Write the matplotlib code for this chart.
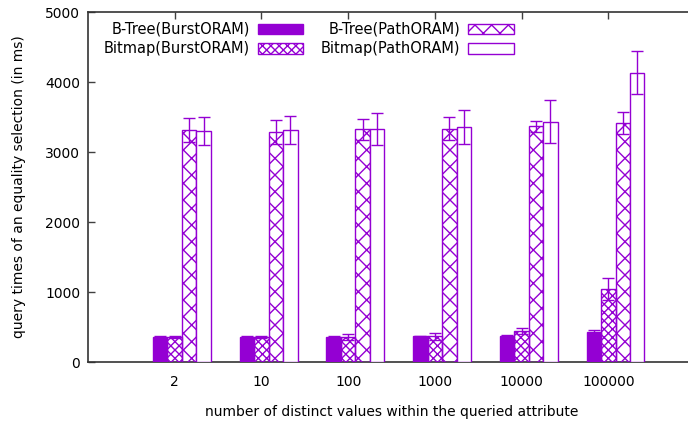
import numpy as np
import matplotlib
matplotlib.use('Agg')
import matplotlib.pyplot as plt

# values (ms)
categories = ['2', '10', '100', '1000', '10000', '100000']
btree_burst = [355, 355, 355, 365, 370, 428]
btree_burst_err = [12, 15, 12, 12, 15, 25]
bitmap_burst = [360, 355, 355, 365, 438, 1045]
bitmap_burst_err = [15, 15, 40, 55, 42, 160]
btree_path = [3318, 3285, 3322, 3335, 3365, 3415]
btree_path_err = [170, 170, 155, 160, 85, 155]
bitmap_path = [3302, 3308, 3328, 3360, 3433, 4135]
bitmap_path_err = [200, 200, 232, 247, 310, 305]
labels = ['B-Tree(BurstORAM)', 'Bitmap(BurstORAM)', 'B-Tree(PathORAM)', 'Bitmap(PathORAM)']

purple = '#9400d3'
plt.rcParams['hatch.linewidth'] = 1.0
plt.rcParams['font.family'] = 'DejaVu Sans'

fig = plt.figure(figsize=(6.88, 4.25), dpi=100)
W, H = 688, 425
ax = fig.add_axes([88 / W, (H - 362) / H, (695 - 88) / W, 350 / H])

x = np.arange(1, len(categories) + 1)
w = 1 / 6
series = [
    (btree_burst, btree_burst_err, purple, ''),
    (bitmap_burst, bitmap_burst_err, 'none', 'xxxx'),
    (btree_path, btree_path_err, 'none', 'xx'),
    (bitmap_path, bitmap_path_err, 'white', ''),
]
handles = []
for j, (vals, errs, fc, hatch) in enumerate(series):
    pos = x + (j - 1) * w
    b = ax.bar(pos, vals, width=w, facecolor=fc, edgecolor=purple, hatch=hatch,
               linewidth=1.0, zorder=3)
    ax.errorbar(pos, vals, yerr=errs, fmt='none', ecolor=purple, elinewidth=1.0,
                capsize=4, capthick=1.0, zorder=4)
    handles.append(b)

ax.set_xlim(0, 7)
ax.set_ylim(0, 5000)
ax.set_yticks(np.arange(0, 5001, 1000))
ax.set_xticks(x)
ax.set_xticklabels(categories)
ax.tick_params(axis='y', left=True, right=True, direction='in', length=5, width=1,
               color='#404040', pad=5.5, labelsize=10)
ax.tick_params(axis='x', bottom=False, top=True, direction='in', length=5, width=1,
               color='#404040', pad=9.5, labelsize=10)
for s in ax.spines.values():
    s.set_color('#333333')
    s.set_linewidth(1.2)
ax.spines['right'].set_visible(False)

fig.text(19 / W, 1 - 187 / H, 'query times of an equality selection (in ms)',
         rotation=90, ha='center', va='center', fontsize=10)
fig.text(392 / W, 1 - 412 / H, 'number of distinct values within the queried attribute',
         ha='center', va='center', fontsize=10)

fig.legend(handles, labels, ncol=2, loc='upper left', bbox_to_anchor=(104 / W, 1 - 22 / H),
           frameon=False, markerfirst=False, fontsize=10.5, handlelength=3.1,
           handleheight=0.75, handletextpad=0.55, columnspacing=1.2, labelspacing=0.3,
           borderpad=0, borderaxespad=0)

fig.savefig('out.png', dpi=100)
